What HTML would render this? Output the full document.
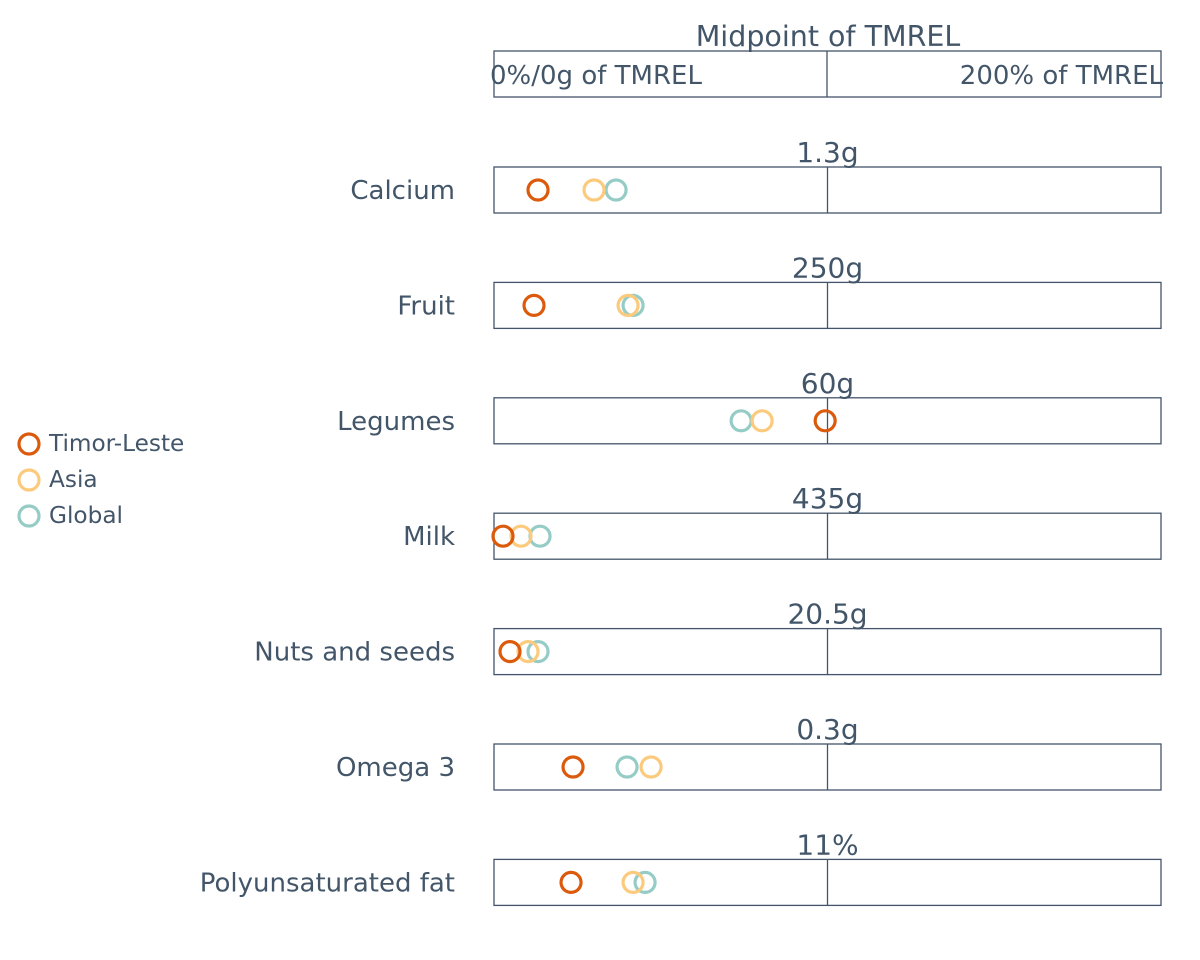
<!DOCTYPE html>
<html><head><meta charset="utf-8"><style>
html,body{margin:0;padding:0;background:#fff;width:1200px;height:960px;overflow:hidden}
svg text{font-family:"DejaVu Sans","Liberation Sans",sans-serif;fill:#435669}
</style></head><body>
<svg id="chart" width="1200" height="960" xmlns="http://www.w3.org/2000/svg">
<g id="header">
<text x="828" y="46" font-size="28.5" text-anchor="middle">Midpoint of TMREL</text>
<rect x="494" y="51" width="667" height="46" fill="none" stroke="#44546a" stroke-width="1.3"/>
<line x1="827" y1="51" x2="827" y2="97" stroke="#44546a" stroke-width="1.3"/>
<text x="490" y="84" font-size="26">0%/0g of TMREL</text>
<text x="1163" y="84" font-size="26" text-anchor="end">200% of TMREL</text>
</g>
<g id="rows"></g>
<g id="legend"></g>
</svg>
<script>
const categories=["Calcium","Fruit","Legumes","Milk","Nuts and seeds","Omega 3","Polyunsaturated fat"];
const midLabels=["1.3g","250g","60g","435g","20.5g","0.3g","11%"];
const timorLeste=[13.2,12.0,99.3,2.7,4.8,23.7,23.1];
const asia=[30.0,40.2,80.4,8.1,10.2,47.1,41.7];
const global=[36.6,41.7,74.1,13.8,13.2,39.9,45.3];
const seriesNames=["Timor-Leste","Asia","Global"];
const seriesColors=["#dc5a0c","#fcca7c","#96ccc6"];
const NS="http://www.w3.org/2000/svg";
const x0=494,x1=1161;
function xs(p){return x0+p/200*(x1-x0);}
function rowTop(i){return 167+i*115.4;}
function mk(t,a,parent){const e=document.createElementNS(NS,t);for(const k in a)e.setAttribute(k,a[k]);parent.appendChild(e);return e;}
const rows=document.getElementById('rows');
const series=[timorLeste,asia,global];
categories.forEach((c,i)=>{
  const top=rowTop(i);
  const g=mk('g',{},rows);
  
  
  const r=mk('rect',{x:x0,y:top,width:x1-x0,height:46,fill:'none',stroke:'#44546a','stroke-width':1.3},g);
  
  
  const l=mk('line',{x1:xs(100),x2:xs(100),y1:top,y2:top+46,stroke:'#44546a','stroke-width':1.3},g);
  
  
  const t=mk('text',{x:455,y:top+32,'font-size':26,'text-anchor':'end'},g);
  t.textContent=c;
  
  
  const m=mk('text',{x:xs(100),y:top-5,'font-size':28,'text-anchor':'middle'},g);
  m.textContent=midLabels[i];
  
  
  [2,1,0].forEach(s=>{
    const p=mk('circle',{cx:xs(series[s][i]),cy:top+23,r:10,fill:'none',stroke:seriesColors[s],'stroke-width':3.2},g);
    
    
  });
});
const lg=document.getElementById('legend');
seriesNames.forEach((n,i)=>{
  const c=mk('circle',{cx:29,cy:444+i*36,r:10,fill:'none',stroke:seriesColors[i],'stroke-width':3.2},lg);
  
  
  const t=mk('text',{x:49,y:451+i*36,'font-size':23.2},lg);
  t.textContent=n;
  
  
});
</script>
</body></html>
